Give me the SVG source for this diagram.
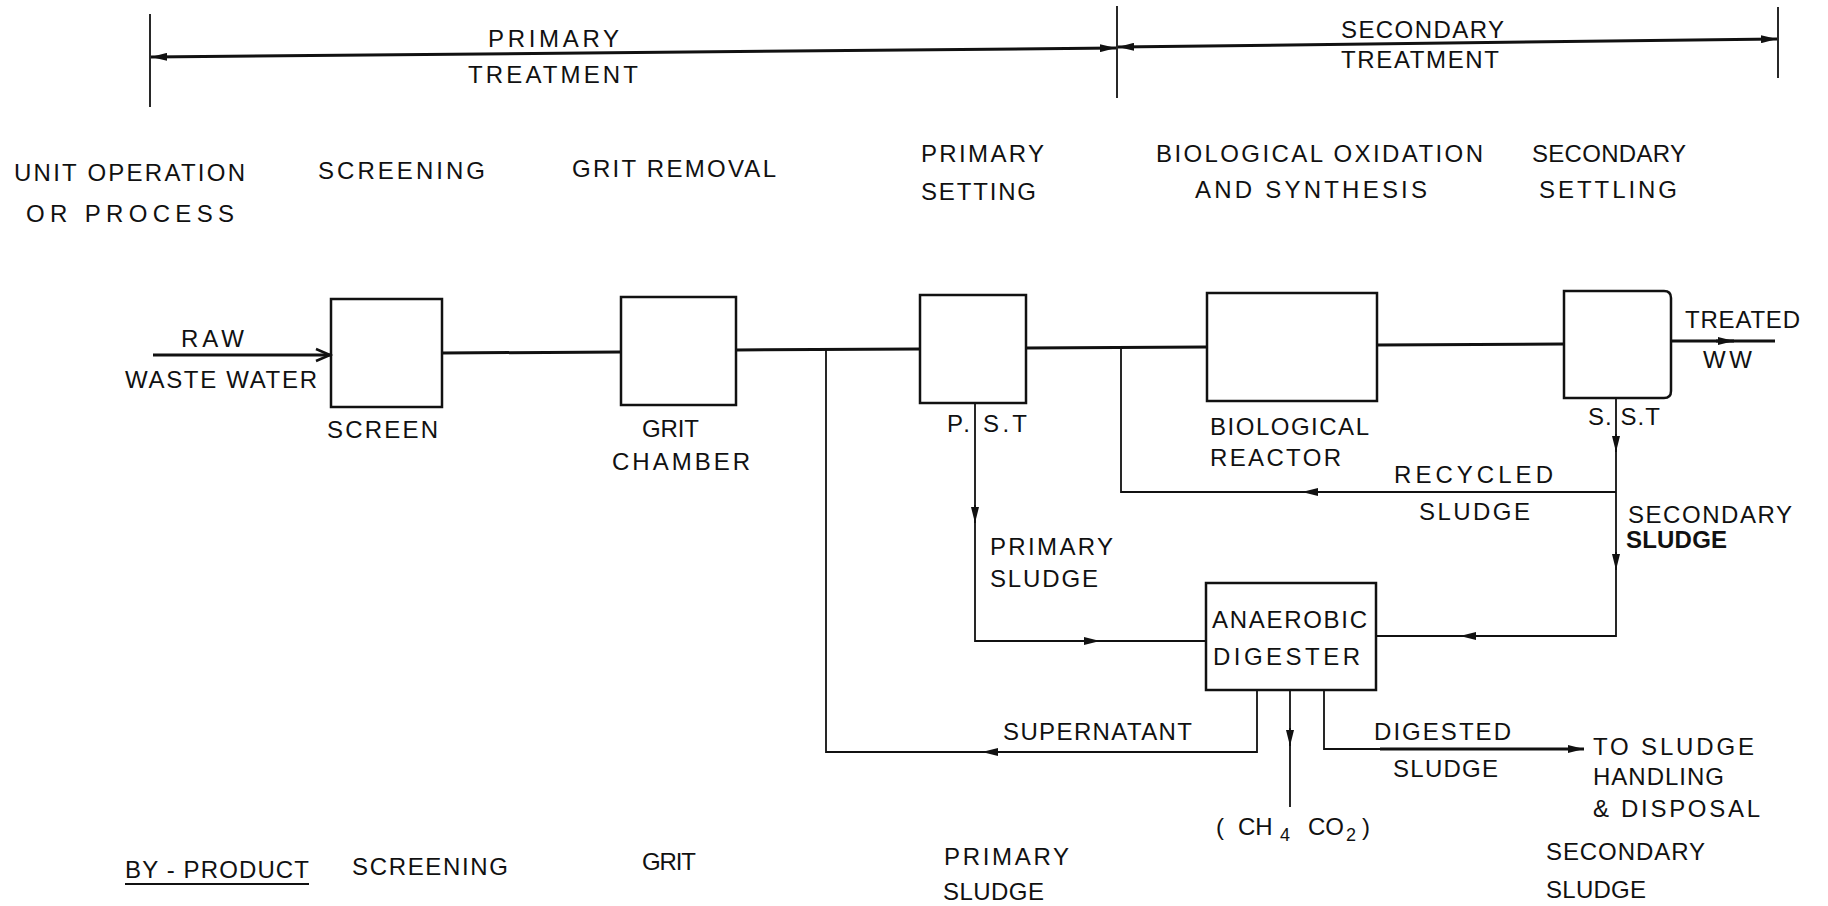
<svg xmlns="http://www.w3.org/2000/svg" width="1828" height="906" viewBox="0 0 1828 906">
<style>
text{font-family:"Liberation Sans",Arial,sans-serif;font-size:24px;fill:#111;}
.box{fill:none;stroke:#111;stroke-width:2.5;}
.main{fill:none;stroke:#111;stroke-width:3;}
.thin{fill:none;stroke:#111;stroke-width:1.8;}
.bold{font-weight:bold;}
.sub{font-size:18px;}
</style>
<defs>
<marker id="ah" viewBox="0 0 16 8" refX="16" refY="4" markerWidth="16" markerHeight="8" markerUnits="userSpaceOnUse" orient="auto-start-reverse">
<path d="M0,0 L16,4 L0,8 Z" fill="#111"/>
</marker>
<marker id="open" viewBox="0 0 16 14" refX="15" refY="7" markerWidth="16" markerHeight="14" markerUnits="userSpaceOnUse" orient="auto" overflow="visible">
<path d="M1,1 L15,7 L1,13" fill="none" stroke="#111" stroke-width="2.5"/>
</marker>
</defs>
<rect width="1828" height="906" fill="#fff"/>

<g id="bracket">
<line class="thin" x1="150" y1="14" x2="150" y2="107"/>
<line class="thin" x1="1117" y1="6" x2="1117" y2="98"/>
<line class="thin" x1="1778" y1="7" x2="1778" y2="78"/>
<path class="main" d="M151,57 L1116,48" marker-start="url(#ah)" marker-end="url(#ah)"/>
<path class="main" d="M1118,47 L1777,39" marker-start="url(#ah)" marker-end="url(#ah)"/>
<text x="488" y="47" textLength="131">PRIMARY</text>
<text x="468" y="83" textLength="170">TREATMENT</text>
<text x="1341" y="38" textLength="163">SECONDARY</text>
<text x="1341" y="68" textLength="158">TREATMENT</text>
</g>

<g id="headings">
<text x="14" y="181" textLength="231">UNIT OPERATION</text>
<text x="26" y="222" textLength="208">OR PROCESS</text>
<text x="318" y="179" textLength="167">SCREENING</text>
<text x="572" y="177" textLength="204">GRIT REMOVAL</text>
<text x="921" y="162" textLength="123">PRIMARY</text>
<text x="921" y="200" textLength="115">SETTING</text>
<text x="1156" y="162" textLength="327">BIOLOGICAL OXIDATION</text>
<text x="1195" y="198" textLength="232">AND SYNTHESIS</text>
<text x="1532" y="162" textLength="154">SECONDARY</text>
<text x="1539" y="198" textLength="138">SETTLING</text>
</g>

<g id="connectors">
<path class="main" d="M153,355 L330,355" marker-end="url(#open)"/>
<path class="main" d="M442,353 L621,352"/>
<path class="main" d="M736,350 L920,349"/>
<path class="main" d="M1026,348 L1207,347"/>
<path class="main" d="M1377,345 L1564,344"/>
<path class="main" d="M1671,341 L1775,341"/>
<path class="main" d="M1716,341 L1734,341" marker-end="url(#ah)"/>
<path class="thin" d="M1257,690 V752 H826 V350"/>
<path class="thin" d="M1000,752 L982,752" marker-end="url(#ah)"/>
<path class="thin" d="M1616,492 H1121 V348"/>
<path class="thin" d="M1320,492 L1302,492" marker-end="url(#ah)"/>
<path class="thin" d="M1616,398 V636 H1376"/>
<path class="thin" d="M1616,434 L1616,452" marker-end="url(#ah)"/>
<path class="thin" d="M1616,552 L1616,570" marker-end="url(#ah)"/>
<path class="thin" d="M1478,636 L1460,636" marker-end="url(#ah)"/>
<path class="thin" d="M975,403 V641 H1206"/>
<path class="thin" d="M975,505 L975,523" marker-end="url(#ah)"/>
<path class="thin" d="M1082,641 L1100,641" marker-end="url(#ah)"/>
<path class="thin" d="M1290,690 V807"/>
<path class="thin" d="M1290,728 L1290,746" marker-end="url(#ah)"/>
<path class="thin" d="M1324,690 V749 H1380"/>
<path class="main" d="M1380,749 L1584,749" marker-end="url(#ah)"/>
</g>

<g id="screen">
<rect class="box" x="331" y="299" width="111" height="108"/>
<text x="327" y="438" textLength="111">SCREEN</text>
</g>
<g id="grit-chamber">
<rect class="box" x="621" y="297" width="115" height="108"/>
<text x="642" y="437" textLength="57">GRIT</text>
<text x="612" y="470" textLength="138">CHAMBER</text>
</g>
<g id="pst">
<rect class="box" x="920" y="295" width="106" height="108"/>
<text x="947" y="432" textLength="80">P.  S.T</text>
</g>
<g id="bio-reactor">
<rect class="box" x="1207" y="293" width="170" height="108"/>
<text x="1210" y="435" textLength="159">BIOLOGICAL</text>
<text x="1210" y="466" textLength="131">REACTOR</text>
</g>
<g id="sst">
<path class="box" d="M1564,291 H1664 Q1671,291 1671,298 V391 Q1671,398 1664,398 H1564 Z"/>
<text x="1588" y="425" textLength="72">S.  S.T</text>
</g>
<g id="digester">
<rect class="box" x="1206" y="583" width="170" height="107"/>
<text x="1212" y="628" textLength="155">ANAEROBIC</text>
<text x="1213" y="665" textLength="147">DIGESTER</text>
</g>

<g id="labels">
<text x="181" y="347" textLength="63">RAW</text>
<text x="125" y="388" textLength="192">WASTE WATER</text>
<text x="1685" y="328" textLength="115">TREATED</text>
<text x="1703" y="368" textLength="49">WW</text>
<text x="1394" y="483" textLength="159">RECYCLED</text>
<text x="1419" y="520" textLength="111">SLUDGE</text>
<text x="1628" y="523" textLength="164">SECONDARY</text>
<text class="bold" x="1626" y="548" textLength="101">SLUDGE</text>
<text x="990" y="555" textLength="123">PRIMARY</text>
<text x="990" y="587" textLength="108">SLUDGE</text>
<text x="1003" y="740" textLength="189">SUPERNATANT</text>
<text x="1374" y="740" textLength="137">DIGESTED</text>
<text x="1393" y="777" textLength="105">SLUDGE</text>
<text x="1593" y="755" textLength="161">TO SLUDGE</text>
<text x="1593" y="785" textLength="131">HANDLING</text>
<text x="1593" y="817" textLength="167">&amp; DISPOSAL</text>
<text y="835"><tspan x="1216">(</tspan><tspan x="1238">CH</tspan><tspan class="sub" x="1280" dy="6">4</tspan><tspan x="1308" dy="-6">CO</tspan><tspan class="sub" x="1346" dy="6">2</tspan><tspan x="1362" dy="-6">)</tspan></text>
</g>

<g id="by-products">
<text x="125" y="878" textLength="184">BY - PRODUCT</text>
<line x1="125" y1="884" x2="309" y2="884" stroke="#111" stroke-width="1.8"/>
<text x="352" y="875" textLength="156">SCREENING</text>
<text x="642" y="870" textLength="54">GRIT</text>
<text x="944" y="865" textLength="125">PRIMARY</text>
<text x="943" y="900" textLength="101">SLUDGE</text>
<text x="1546" y="860" textLength="159">SECONDARY</text>
<text x="1546" y="898" textLength="100">SLUDGE</text>
</g>
</svg>
